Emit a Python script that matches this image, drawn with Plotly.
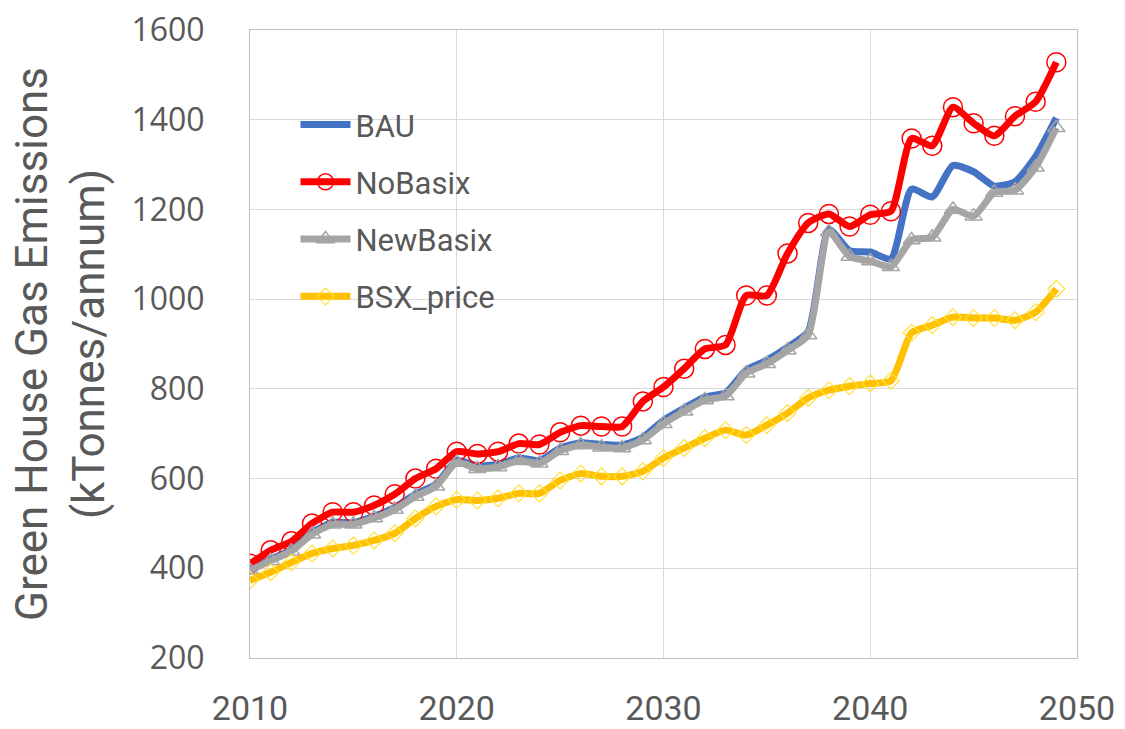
import plotly.graph_objects as go

# Annual emission projections (kTonnes/annum), one value per year 2010-2049
years = list(range(2010, 2050))

bau = [398, 420, 442, 480, 502, 502, 516, 536, 565, 588,
       640, 628, 632, 646, 640, 668, 680, 676, 675, 692,
       730, 757, 782, 791, 842, 864, 893, 928, 1155, 1108,
       1105, 1090, 1245, 1228, 1298, 1284, 1252, 1262, 1318, 1404]

no_basix = [410, 440, 460, 500, 525, 525, 540, 565, 600, 622,
            660, 655, 660, 678, 676, 703, 718, 716, 716, 772,
            804, 845, 889, 898, 1008, 1008, 1102, 1170, 1190, 1162,
            1188, 1196, 1358, 1342, 1428, 1392, 1364, 1408, 1440, 1528]

new_basix = [395, 417, 438, 476, 498, 498, 512, 531, 560, 583,
             636, 622, 626, 640, 634, 662, 675, 670, 668, 686,
             722, 750, 775, 784, 835, 856, 886, 920, 1150, 1095,
             1085, 1072, 1132, 1138, 1200, 1185, 1238, 1243, 1294, 1382]

bsx_price = [373, 391, 413, 433, 444, 451, 462, 478, 511, 538,
             553, 551, 556, 567, 567, 596, 611, 605, 605, 616,
             646, 668, 690, 708, 697, 719, 746, 780, 797, 806,
             812, 818, 925, 942, 960, 958, 958, 953, 971, 1023]

x_ticks = [2010, 2020, 2030, 2040, 2050]
y_ticks = [200, 400, 600, 800, 1000, 1200, 1400, 1600]

TEXT = "#595959"
GRID = "#D9D9D9"
SANS = "Roboto, sans-serif"

fig = go.Figure()

fig.add_trace(go.Scatter(
    x=years, y=bau, name="BAU", mode="lines", legendgroup="a",
    line=dict(color="#4472C4", width=7, shape="spline", smoothing=0.6),
))
fig.add_trace(go.Scatter(
    x=years, y=no_basix, name="NoBasix", mode="lines+markers", legendgroup="b",
    line=dict(color="#FF0000", width=7, shape="spline", smoothing=0.6),
    marker=dict(symbol="circle-open", size=19, color="#FF0000",
                line=dict(width=1.5, color="#FF0000")),
))
fig.add_trace(go.Scatter(
    x=years, y=new_basix, name="NewBasix", mode="lines+markers", legendgroup="c",
    line=dict(color="#A5A5A5", width=7, shape="spline", smoothing=0.6),
    marker=dict(symbol="triangle-up-open", size=15, color="#A5A5A5",
                line=dict(width=1.5, color="#A5A5A5")),
))
fig.add_trace(go.Scatter(
    x=years, y=bsx_price, name="BSX_price", mode="lines+markers", legendgroup="d",
    line=dict(color="#FFC000", width=7, shape="spline", smoothing=0.6),
    marker=dict(symbol="diamond-open", size=13, color="#FFE135",
                line=dict(width=1.2, color="#FFE135")),
))

fig.update_layout(
    width=1125, height=729,
    margin=dict(l=250, r=48, t=30, b=71),
    paper_bgcolor="white", plot_bgcolor="white",
    showlegend=True,
    legend=dict(
        x=0.055, y=0.892, xanchor="left", yanchor="top",
        font=dict(family=SANS, size=31, color=TEXT),
        bgcolor="rgba(0,0,0,0)", borderwidth=0,
        traceorder="grouped", tracegroupgap=14,
        itemwidth=50,
    ),
    xaxis=dict(
        range=[2010, 2050], tickvals=x_ticks,
        ticktext=[str(v) for v in x_ticks],
        showgrid=True, gridcolor=GRID, gridwidth=1,
        showline=True, linecolor="#BFBFBF", linewidth=1, mirror=True,
        zeroline=False, ticks="", automargin=False,
        tickfont=dict(family=SANS, size=34, color=TEXT),
        ticklabelstandoff=20,
    ),
    yaxis=dict(
        range=[200, 1600], tickvals=y_ticks,
        showgrid=True, gridcolor=GRID, gridwidth=1,
        showline=True, linecolor="#BFBFBF", linewidth=1, mirror=True,
        zeroline=False, ticks="", automargin=False,
        tickfont=dict(family="Open Sans, DejaVu Sans, sans-serif", size=32, color=TEXT),
        ticklabelstandoff=38,
        title=dict(
            text="Green House Gas Emissions<br>(kTonnes/annum)",
            font=dict(family=SANS, size=44, color=TEXT),
            standoff=12,
        ),
    ),
)

fig.write_html("out.html")
